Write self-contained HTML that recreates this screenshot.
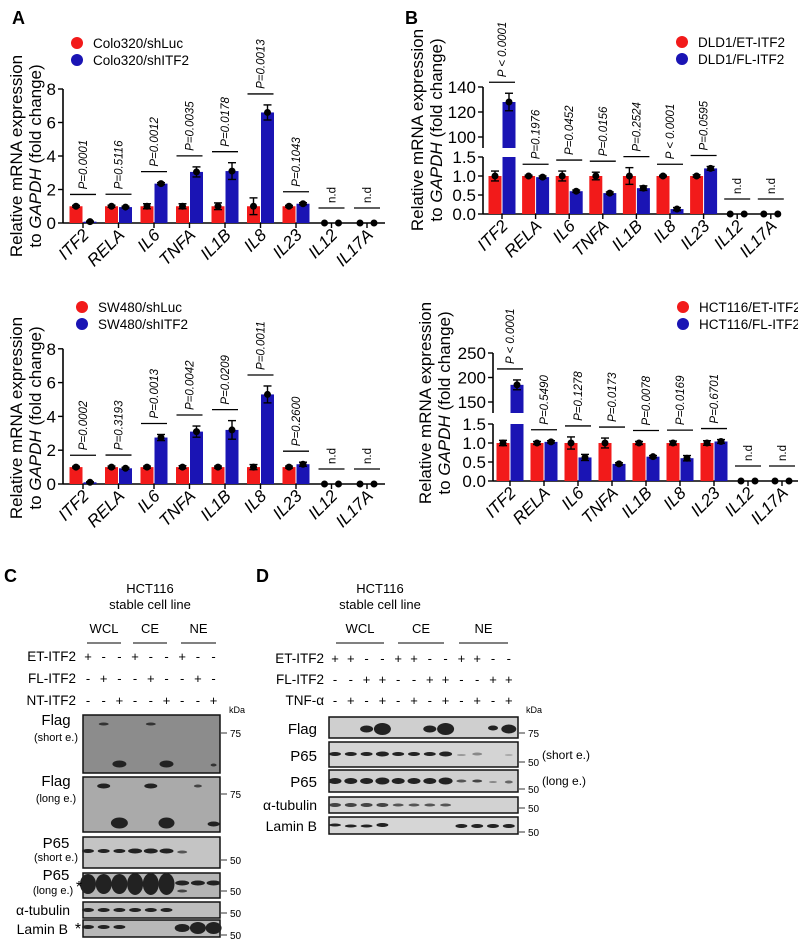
<!DOCTYPE html>
<html><head><meta charset="utf-8"><style>
body{margin:0;background:#fff}
svg{display:block;font-family:"Liberation Sans",Arial,sans-serif}
</style></head><body>
<svg id="fig" width="798" height="939" viewBox="0 0 798 939">
<text x="12" y="24" font-size="18" font-weight="bold">A</text>
<text x="405" y="24" font-size="18" font-weight="bold">B</text>
<text x="4" y="582" font-size="18" font-weight="bold">C</text>
<text x="256" y="582" font-size="18" font-weight="bold">D</text>
</svg>
<script>
const cats=['ITF2','RELA','IL6','TNFA','IL1B','IL8','IL23','IL12','IL17A'];
const aTopRed=[1,1,1,1,1,1,1,0,0];
const aTopBlue=[0.08,0.95,2.35,3.05,3.1,6.6,1.15,0,0];
const aTopRedErr=[0.05,0.06,0.15,0.15,0.2,0.5,0.05,0,0];
const aTopBlueErr=[0.03,0.05,0.06,0.3,0.5,0.45,0.06,0,0];
const aTopP=['P=0.0001','P=0.5116','P=0.0012','P=0.0035','P=0.0178','P=0.0013','P=0.1043','n.d','n.d'];
const aBotRed=[1,1,1,1,1,1,1,0,0];
const aBotBlue=[0.1,0.93,2.75,3.1,3.2,5.3,1.17,0,0];
const aBotRedErr=[0.05,0.06,0.06,0.08,0.06,0.15,0.06,0,0];
const aBotBlueErr=[0.03,0.05,0.18,0.33,0.55,0.5,0.12,0,0];
const aBotP=['P=0.0002','P=0.3193','P=0.0013','P=0.0042','P=0.0209','P=0.0011','P=0.2600','n.d','n.d'];
const bTopRed=[1,1,1,1,1,1,1,0,0];
const bTopBlue=[128,0.97,0.6,0.55,0.68,0.13,1.2,0,0];
const bTopRedErr=[0.13,0.02,0.13,0.1,0.22,0.02,0.03,0,0];
const bTopBlueErr=[7,0.03,0.03,0.03,0.06,0.04,0.05,0,0];
const bTopP=['P < 0.0001','P=0.1976','P=0.0452','P=0.0156','P=0.2524','P < 0.0001','P=0.0595','n.d','n.d'];
const bBotRed=[1,1,1,1,1,1,1,0,0];
const bBotBlue=[185,1.03,0.62,0.45,0.64,0.6,1.04,0,0];
const bBotRedErr=[0.07,0.04,0.16,0.13,0.04,0.05,0.06,0,0];
const bBotBlueErr=[10,0.03,0.08,0.03,0.03,0.07,0.05,0,0];
const bBotP=['P < 0.0001','P=0.5490','P=0.1278','P=0.0173','P=0.0078','P=0.0169','P=0.6701','n.d','n.d'];
const aTicks=[0,2,4,6,8];
const bTopLowTicks=['0.0','0.5','1.0','1.5'];
const bTopUpTicks=[100,120,140];
const bBotUpTicks=[150,200,250];

const NS='http://www.w3.org/2000/svg';
const svg=document.getElementById('fig');
function mk(tag,attrs,parent,txt){const e=document.createElementNS(NS,tag);for(const k in attrs)e.setAttribute(k,attrs[k]);if(txt!==undefined)e.textContent=txt;(parent||svg).appendChild(e);return e;}

function chart(o){
  const g=mk('g',{});
  
  
  const y=v=> (o.up && v>o.lowMax)? o.up(v) : o.low(v);
  const y0=o.low(0);
  // y axis
  const ya=mk('g',{},g);
  
  
  mk('line',{x1:o.ax,x2:o.ax,y1:y0,y2:o.low(o.lowMax),stroke:'#000','stroke-width':1.6},ya);
  if(o.up) mk('line',{x1:o.ax,x2:o.ax,y1:o.upBot,y2:o.up(o.upMax),stroke:'#000','stroke-width':1.6},ya);
  o.lowTicks.forEach(t=>{const v=parseFloat(t);const yy=o.low(v);
    mk('line',{x1:o.ax-5,x2:o.ax,y1:yy,y2:yy,stroke:'#000','stroke-width':1.4},ya);
    const tl=mk('text',{x:o.ax-7,y:yy+6,'font-size':17,'text-anchor':'end'},ya,String(t));
    
    });
  (o.upTicks||[]).forEach(t=>{const yy=o.up(t);
    mk('line',{x1:o.ax-5,x2:o.ax,y1:yy,y2:yy,stroke:'#000','stroke-width':1.4},ya);
    const tl=mk('text',{x:o.ax-7,y:yy+6,'font-size':17,'text-anchor':'end'},ya,String(t));
    
    });
  // title
  const tt=mk('text',{transform:`translate(${o.tx},${o.ty}) rotate(-90)`,'font-size':17,'text-anchor':'middle'},g);
  
  
  mk('tspan',{x:0,y:0},tt,'Relative mRNA expression');
  const t2=mk('tspan',{x:0,y:19},tt,'to ');
  mk('tspan',{'font-style':'italic'},tt,'GAPDH');
  mk('tspan',{},tt,' (fold change)');
  // x axis
  mk('line',{x1:o.ax,x2:o.xEnd,y1:y0,y2:y0,stroke:'#000','stroke-width':1.6},g);
  cats.forEach((c,i)=>{
    const cx=o.x0+i*o.dx;
    mk('line',{x1:cx,x2:cx,y1:y0,y2:y0+5,stroke:'#000','stroke-width':1.4},g);
    const xl=mk('text',{transform:`translate(${cx+7},${y0+13}) rotate(-45)`,'font-size':17,'font-style':'italic','text-anchor':'end'},g,c);
    
    
    const series=[[o.red[i],o.redErr[i],'#f21a1a',cx-o.bw-0.5,'red'],[o.blue[i],o.blueErr[i],'#1a14b4',cx+0.5,'blue']];
    let topY=y0;
    series.forEach(([v,e,col,bx,nm])=>{
      if(v>0){
        if(o.up && v>o.lowMax){
          const r1=mk('rect',{x:bx,y:o.low(o.lowMax),width:o.bw,height:y0-o.low(o.lowMax),fill:col},g);
          
          
          const r2=mk('rect',{x:bx,y:o.up(v),width:o.bw,height:o.upBot-o.up(v),fill:col},g);
          
          
        } else {
          const r=mk('rect',{x:bx,y:y(v),width:o.bw,height:y0-y(v),fill:col},g);
          
          
        }
      }
      const mx=bx+o.bw/2;
      if(e>0){const a=y(v+e),b=y(v-e);
        mk('line',{x1:mx,x2:mx,y1:a,y2:b,stroke:'#000','stroke-width':1.4},g);
        mk('line',{x1:mx-4,x2:mx+4,y1:a,y2:a,stroke:'#000','stroke-width':1.4},g);
        mk('line',{x1:mx-4,x2:mx+4,y1:b,y2:b,stroke:'#000','stroke-width':1.4},g);}
      const d=mk('circle',{cx:mx,cy:y(v),r:3.5,fill:'#000'},g);
      
      
      topY=Math.min(topY,y(v+e));
    });
    const ly=(o.red[i]===0&&o.blue[i]===0)? y0-15 : topY-11;
    mk('line',{x1:cx-13,x2:cx+13,y1:ly,y2:ly,stroke:'#000','stroke-width':1.3},g);
    const pt=mk('text',{transform:`translate(${cx+4},${ly-5}) rotate(-90)`,'font-size':11.5,'font-style':o.p[i]==='n.d'?'normal':'italic'},g,o.p[i]);
    
    
  });
  // legend
  const lg=mk('g',{},g);
  
  
  [[o.leg[0],'#f21a1a',0],[o.leg[1],'#1a14b4',17]].forEach(([t,c,dy])=>{
    const le=mk('g',{},lg);
    
    
    mk('circle',{cx:o.lx,cy:o.ly+dy,r:6,fill:c},le);
    mk('text',{x:o.lx+16,y:o.ly+dy+5,'font-size':13.5},le,t);
  });
}

chart({name:'chart-a-colo320',low:v=>223-v*16.75,lowMax:8,lowTicks:aTicks,ax:63,x0:83,dx:35.5,xEnd:385,bw:13,
  red:aTopRed,blue:aTopBlue,redErr:aTopRedErr,blueErr:aTopBlueErr,p:aTopP,tx:22,ty:156,leg:['Colo320/shLuc','Colo320/shITF2'],lx:77,ly:43});
chart({name:'chart-a-sw480',low:v=>484-v*16.9,lowMax:8,lowTicks:aTicks,ax:63,x0:83,dx:35.5,xEnd:385,bw:13,
  red:aBotRed,blue:aBotBlue,redErr:aBotRedErr,blueErr:aBotBlueErr,p:aBotP,tx:22,ty:418,leg:['SW480/shLuc','SW480/shITF2'],lx:82,ly:307});
chart({name:'chart-b-dld1',low:v=>214-v*38,lowMax:1.5,lowTicks:bTopLowTicks,up:v=>137-(v-100)*1.25,upBot:148,upMax:140,upTicks:bTopUpTicks,
  ax:483,x0:502,dx:33.6,xEnd:780,bw:13,red:bTopRed,blue:bTopBlue,redErr:bTopRedErr,blueErr:bTopBlueErr,p:bTopP,tx:423,ty:130,leg:['DLD1/ET-ITF2','DLD1/FL-ITF2'],lx:682,ly:42});
chart({name:'chart-b-hct116',low:v=>481-v*38,lowMax:1.5,lowTicks:bTopLowTicks,up:v=>402-(v-150)*0.49,upBot:413,upMax:250,upTicks:bBotUpTicks,
  ax:493,x0:510,dx:34,xEnd:798,bw:13,red:bBotRed,blue:bBotBlue,redErr:bBotRedErr,blueErr:bBotBlueErr,p:bBotP,tx:431,ty:403,leg:['HCT116/ET-ITF2','HCT116/FL-ITF2'],lx:683,ly:307});

// Western blots
function blot(o){
  const g=mk('g',{});
  
  
  const h1=mk('text',{x:o.hx,y:593,'font-size':13,'text-anchor':'middle'},g,'HCT116');
  mk('text',{x:o.hx,y:609,'font-size':13,'text-anchor':'middle'},g,'stable cell line');
  o.groups.forEach(([t,a,b])=>{
    const gt=mk('text',{x:(a+b)/2,y:633,'font-size':13,'text-anchor':'middle'},g,t);
    
    
    mk('line',{x1:a,x2:b,y1:643,y2:643,stroke:'#000','stroke-width':1},g);
  });
  o.rows.forEach(([lab,ys,signs])=>{
    const rl=mk('text',{x:o.labX,y:ys+5,'font-size':13.5,'text-anchor':'end'},g,lab);
    
    
    signs.split('').forEach((s,i)=>mk('text',{x:o.lane0+i*o.ld,y:ys+5,'font-size':13,'text-anchor':'middle'},g,s==='+'?'+':'-'));
  });
  mk('text',{x:o.kx,y:o.ky,'font-size':9},g,'kDa');
  o.boxes.forEach(b=>{
    const bg=mk('g',{},g);
    
    
    mk('rect',{x:o.bx1,y:b.y1,width:o.bx2-o.bx1,height:b.y2-b.y1,fill:b.f,stroke:'#111','stroke-width':1.5},bg);
    b.bands.forEach(([lane,yy,w,h,c])=>mk('ellipse',{cx:o.lane0+lane*o.ld,cy:yy,rx:w/2,ry:h/2,fill:c||'#222'},bg));
    b.labs.forEach(([t,x,yy,fs,anc])=>mk('text',{x:x,y:yy,'font-size':fs,'text-anchor':anc||'middle'},bg,t));
    b.marks.forEach(([m,yy])=>{mk('line',{x1:o.bx2+1,x2:o.bx2+7,y1:yy,y2:yy,stroke:'#333'},bg);mk('text',{x:o.bx2+10,y:yy+4,'font-size':10},bg,m);});
  });
}
const L=[0,1,2,3,4,5,6,7,8];
blot({name:'blot-panel-c',hx:150,groups:[['WCL',87,121],['CE',133,167],['NE',181,216]],labX:76,lane0:88,ld:15.7,kx:229,ky:713,bx1:83,bx2:220,
  rows:[['ET-ITF2',656,'+--+--+--'],['FL-ITF2',678,'-+--+--+-'],['NT-ITF2',700,'--+--+--+']],
  boxes:[
   {n:'flag-short',y1:715,y2:773,f:'#8c8c8c',bands:[[1,724,10,3,'#333'],[4,724,10,3,'#333'],[2,764,14,7],[5,764,14,7],[8,765,6,3,'#333']],labs:[['Flag',56,725,15],['(short e.)',56,741,11]],marks:[['75',733]]},
   {n:'flag-long',y1:777,y2:832,f:'#aaaaaa',bands:[[1,786,13,5],[4,786,13,5],[7,786,8,3,'#444'],[2,823,17,11],[5,823,16,11],[8,824,12,5]],labs:[['Flag',56,786,15],['(long e.)',56,802,11]],marks:[['75',794]]},
   {n:'p65-short',y1:837,y2:868,f:'#c4c4c4',bands:[[0,851,12,4],[1,851,12,4],[2,851,12,4],[3,851,14,5],[4,851,14,5],[5,851,14,5],[6,852,10,3,'#555']],labs:[['P65',56,848,15],['(short e.)',56,861,11]],marks:[['50',860]]},
   {n:'p65-long',y1:873,y2:898,f:'#b4b4b4',bands:[[0,884,16,20],[1,884,16,20],[2,884,16,20],[3,884,16,22],[4,884,16,22],[5,884,16,22],[6,883,14,5],[7,883,14,5],[8,883,14,5],[6,891,10,3,'#444']],labs:[['P65',56,880,15],['(long e.)',53,894,11],['*',79,892,16]],marks:[['50',891]]},
   {n:'alpha-tubulin',y1:902,y2:918,f:'#bdbdbd',bands:[[0,910,12,4],[1,910,12,4],[2,910,12,4],[3,910,12,4],[4,910,12,4],[5,910,12,4]],labs:[['α-tubulin',70,915,14,'end']],marks:[['50',913]]},
   {n:'lamin-b',y1:920,y2:937,f:'#b8b8b8',bands:[[0,927,12,4],[1,927,12,4],[2,927,12,4],[6,928,15,8],[7,928,16,12],[8,928,16,12]],labs:[['Lamin B',68,934,14,'end'],['*',78,934,16]],marks:[['50',935]]}
  ]});
blot({name:'blot-panel-d',hx:380,groups:[['WCL',336,384],['CE',398,444],['NE',459,508]],labX:324,lane0:335,ld:15.8,kx:526,ky:713,bx1:329,bx2:518,
  rows:[['ET-ITF2',658,'++--++--++--'],['FL-ITF2',679,'--++--++--++'],['TNF-α',700,'-+-+-+-+-+-+']],
  boxes:[
   {n:'flag',y1:717,y2:738,f:'#cfcfcf',bands:[[2,729,13,7],[3,729,17,12],[6,729,13,7],[7,729,17,12],[10,728,10,5],[11,729,15,9]],labs:[['Flag',317,734,15,'end']],marks:[['75',733]]},
   {n:'p65-short',y1:742,y2:767,f:'#d4d4d4',bands:[[0,754,12,4],[1,754,12,4],[2,754,12,4],[3,754,13,5],[4,754,12,4],[5,754,12,4],[6,754,12,4],[7,754,13,5],[8,755,9,2,'#999'],[9,754,10,3,'#888'],[11,755,8,2,'#aaa']],labs:[['P65',317,761,15,'end'],['(short e.)',542,759,12,'start']],marks:[['50',762]]},
   {n:'p65-long',y1:770,y2:792,f:'#d0d0d0',bands:[[0,781,13,6],[1,781,13,6],[2,781,13,6],[3,781,14,7],[4,781,13,6],[5,781,13,6],[6,781,13,6],[7,781,14,7],[8,781,10,3,'#555'],[9,781,10,3,'#444'],[10,782,8,2,'#888'],[11,782,8,3,'#666']],labs:[['P65',317,787,15,'end'],['(long e.)',542,785,12,'start']],marks:[['50',789]]},
   {n:'alpha-tubulin',y1:797,y2:813,f:'#d2d2d2',bands:[[0,805,12,4,'#444'],[1,805,12,4,'#444'],[2,805,12,4,'#444'],[3,805,12,4,'#444'],[4,805,11,3,'#555'],[5,805,11,3,'#555'],[6,805,11,3,'#555'],[7,805,11,3,'#555']],labs:[['α-tubulin',317,810,14,'end']],marks:[['50',808]]},
   {n:'lamin-b',y1:817,y2:834,f:'#d6d6d6',bands:[[0,825,12,3],[1,826,12,3],[2,826,12,3],[3,825,12,4],[8,826,12,4],[9,826,12,4],[10,826,12,4],[11,826,12,4]],labs:[['Lamin B',317,831,14,'end']],marks:[['50',832]]}
  ]});
</script>
</body></html>
